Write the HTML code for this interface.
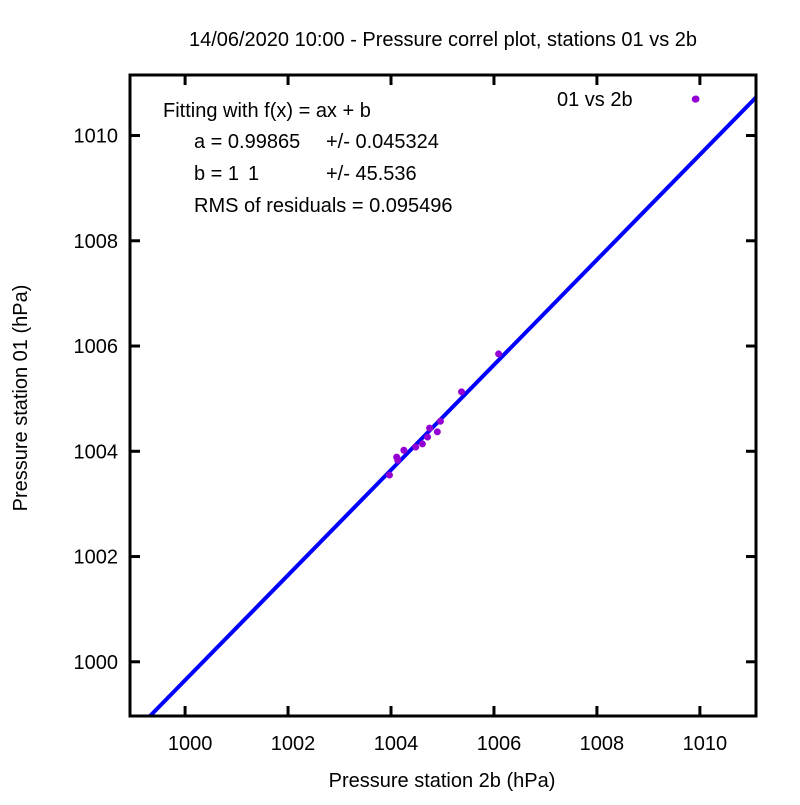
<!DOCTYPE html>
<html><head><meta charset="utf-8"><style>
body{margin:0;background:#fff;}
text{font-family:"Liberation Sans",sans-serif;font-size:20px;fill:#000;}
</style></head><body>
<svg id="chart" width="800" height="800">
<rect width="800" height="800" fill="#fff"/>
<text x="443" y="46" text-anchor="middle">14/06/2020 10:00 - Pressure correl plot, stations 01 vs 2b</text>
<g id="fit">
<text x="163" y="117">Fitting with f(x) = ax + b</text>
<text x="194" y="148">a = 0.99865</text><text x="326" y="148">+/- 0.045324</text>
<text x="194" y="180">b =   1</text><text x="248" y="180">1</text><text x="326" y="180">+/- 45.536</text>
<text x="194" y="212">RMS of residuals = 0.095496</text>
</g>
<text x="557" y="106">01 vs 2b</text>
<g id="marks"></g>
<g id="axes"></g>
<text x="442" y="787" text-anchor="middle">Pressure station 2b (hPa)</text>
<text transform="translate(27,398) rotate(-90)" text-anchor="middle">Pressure station 01 (hPa)</text>
</svg>
<script>
const xTicks=[1000,1002,1004,1006,1008,1010];
const yTicks=[1000,1002,1004,1006,1008,1010];
const xVals=[1006.09,1005.37,1004.75,1004.90,1004.96,1004.61,1004.48,1004.25,1004.11,1003.97,1004.71,1009.91,1004.13];
const yVals=[1005.85,1005.13,1004.44,1004.37,1004.57,1004.14,1004.08,1004.02,1003.89,1003.55,1004.27,1010.69,1003.83];
const fitA=0.99865, fitB=1;
const L=130,R=756,T=75,B=716;
const xMin=998.93,xMax=1011.09,yMin=998.97,yMax=1011.15;
const sx=v=>L+(v-xMin)/(xMax-xMin)*(R-L);
const sy=v=>B-(v-yMin)/(yMax-yMin)*(B-T);
const NS="http://www.w3.org/2000/svg";
const marks=document.getElementById('marks'),axes=document.getElementById('axes');
function mk(t,a,p){const e=document.createElementNS(NS,t);for(const k in a)e.setAttribute(k,a[k]);p.appendChild(e);return e;}
// fit line clipped
let x0=Math.max(xMin,(yMin-fitB)/fitA),x1=Math.min(xMax,(yMax-fitB)/fitA);
const fl=mk('line',{x1:sx(x0),y1:sy(fitA*x0+fitB),x2:sx(x1),y2:sy(fitA*x1+fitB),stroke:'#0000ff','stroke-width':4},marks);


xVals.forEach((v,i)=>{
 const c=mk('circle',{cx:sx(v),cy:sy(yVals[i]),r:3.5,fill:'#9400d3'},marks);
 
 
});
// legend sample
const lp=mk('circle',{cx:696,cy:99,r:3.5,fill:'#9400d3'},marks);


const fr=mk('rect',{x:L,y:T,width:R-L,height:B-T,fill:'none',stroke:'#000','stroke-width':3},axes);


xTicks.forEach(v=>{
 const x=sx(v);
 mk('line',{x1:x,y1:B,x2:x,y2:B-10,stroke:'#000','stroke-width':3},axes);
 mk('line',{x1:x,y1:T,x2:x,y2:T+10,stroke:'#000','stroke-width':3},axes);
 const t=mk('text',{x:x+5,y:B+34,'text-anchor':'middle'},axes);t.textContent=v;
 
 
});
yTicks.forEach(v=>{
 const y=sy(v);
 mk('line',{x1:L,y1:y,x2:L+10,y2:y,stroke:'#000','stroke-width':3},axes);
 mk('line',{x1:R,y1:y,x2:R-10,y2:y,stroke:'#000','stroke-width':3},axes);
 const t=mk('text',{x:118,y:y+7,'text-anchor':'end'},axes);t.textContent=v;
 
 
});
</script>
</body></html>
